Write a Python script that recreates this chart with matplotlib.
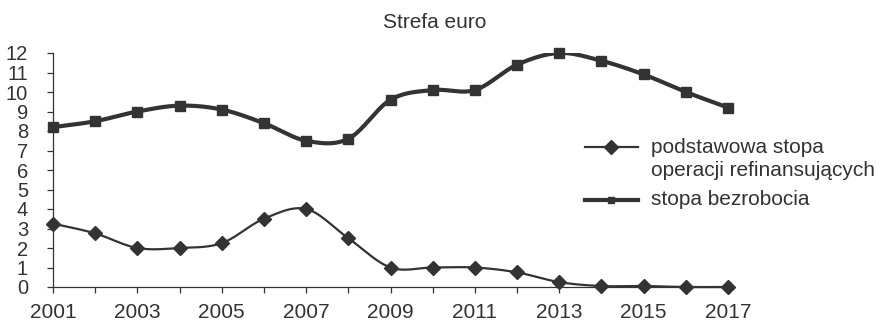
import numpy as np
import matplotlib
matplotlib.use("Agg")
import matplotlib.pyplot as plt
from matplotlib.lines import Line2D

plt.rcParams['font.family'] = ['Liberation Sans', 'DejaVu Sans']

years = list(range(2001, 2018))
refi_rate = [3.25, 2.75, 2.0, 2.0, 2.25, 3.5, 4.0, 2.5, 1.0, 1.0, 1.0, 0.75, 0.25, 0.05, 0.05, 0.0, 0.0]
unemployment = [8.2, 8.5, 9.0, 9.3, 9.1, 8.4, 7.5, 7.6, 9.6, 10.1, 10.1, 11.4, 12.0, 11.6, 10.9, 10.0, 9.2]
year_ticks = list(range(2001, 2018, 2))
label_refi = "podstawowa stopa\noperacji refinansujących"
label_unemp = "stopa bezrobocia"
subtitle = "Strefa euro"

INK = "#333333"


def smooth(x, y, n=30):
    """Catmull-Rom curve through the points (spreadsheet-style smoothed line)."""
    x = np.asarray(x, float)
    y = np.asarray(y, float)
    px = np.concatenate([[x[0]], x, [x[-1]]])
    py = np.concatenate([[y[0]], y, [y[-1]]])
    xs, ys = [], []
    t = np.linspace(0, 1, n, endpoint=False)
    for i in range(1, len(px) - 2):
        for p, out in ((px, xs), (py, ys)):
            p0, p1, p2, p3 = p[i - 1], p[i], p[i + 1], p[i + 2]
            m1 = (p2 - p0) / 2
            m2 = (p3 - p1) / 2
            h00 = 2 * t**3 - 3 * t**2 + 1
            h10 = t**3 - 2 * t**2 + t
            h01 = -2 * t**3 + 3 * t**2
            h11 = t**3 - t**2
            out.extend(h00 * p1 + h10 * m1 + h01 * p2 + h11 * m2)
    xs.append(x[-1])
    ys.append(y[-1])
    return np.array(xs), np.array(ys)


W, H = 882, 325
fig = plt.figure(figsize=(W / 100, H / 100), dpi=100)
ax = fig.add_axes([53 / W, 1 - 287 / H, (728 - 53) / W, (287 - 53) / H])

sx, sy = smooth(years, unemployment)
ax.plot(sx, sy, color=INK, lw=3.0, solid_capstyle='butt', zorder=3)
ax.plot(years, unemployment, ls='none', marker='s', ms=6.5, color=INK, zorder=4, clip_on=False)

sx, sy = smooth(years, refi_rate)
ax.plot(sx, sy, color=INK, lw=1.6, zorder=3, clip_on=False)
ax.plot(years, refi_rate, ls='none', marker='D', ms=7.5, color=INK, zorder=4, clip_on=False)

ax.set_xlim(2001, 2017)
ax.set_ylim(0, 12)
ax.set_yticks(range(0, 13))
ax.set_xticks(year_ticks)
ax.set_xticks(years, minor=True)
for s in ('top', 'right'):
    ax.spines[s].set_visible(False)
for s in ('left', 'bottom'):
    ax.spines[s].set_color(INK)
    ax.spines[s].set_linewidth(0.9)
ax.tick_params(axis='y', direction='out', length=4, width=0.9, color=INK,
               labelsize=14.5, labelcolor=INK, pad=14)
ax.tick_params(axis='x', which='both', direction='out', length=4, width=0.9, color=INK,
               labelsize=15, labelcolor=INK, pad=7.5)

fig.text(435 / W, 1 - 28 / H, subtitle, ha='center', va='baseline', fontsize=15, color=INK)


# legend, drawn by hand so the marker sits on the first text line
def fy(py):
    return 1 - py / H


fig.add_artist(Line2D([585 / W, 638 / W], [fy(147), fy(147)], color=INK, lw=1.6,
                      transform=fig.transFigure))
fig.add_artist(Line2D([611 / W], [fy(147)], marker='D', ms=7.5, color=INK, ls='none',
                      transform=fig.transFigure))
line1, line2 = label_refi.split("\n")
fig.text(651 / W, fy(153), line1, ha='left', va='baseline', fontsize=15, color=INK)
fig.text(651 / W, fy(176), line2, ha='left', va='baseline', fontsize=15, color=INK)

fig.add_artist(Line2D([585 / W, 638 / W], [fy(200), fy(200)], color=INK, lw=3.0,
                      transform=fig.transFigure))
fig.add_artist(Line2D([611 / W], [fy(200)], marker='s', ms=5, color=INK, ls='none',
                      transform=fig.transFigure))
fig.text(651 / W, fy(205), label_unemp, ha='left', va='baseline', fontsize=15, color=INK)

fig.savefig("out.png", dpi=100)
